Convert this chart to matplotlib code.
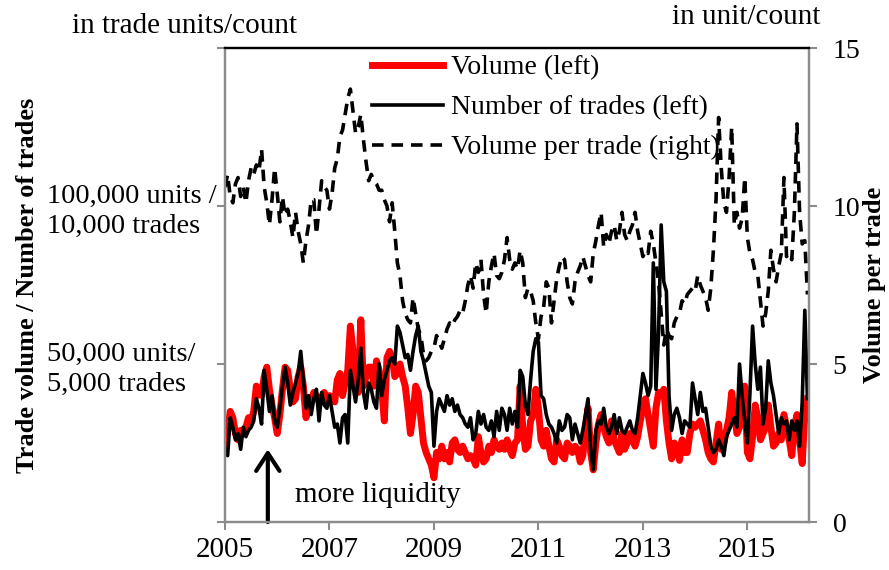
import numpy as np
import matplotlib.pyplot as plt

plt.rcParams['font.family'] = ['Liberation Serif', 'DejaVu Serif']
plt.rcParams['font.size'] = 21

# semi-monthly readings, 2005.00 onwards (step 0.05 year)
start_year = 2005.0
step = 0.05

# trade volume, in 10,000 units
volume = [
    2.4, 2.9, 3.5, 3.3, 2.8, 2.6, 2.9, 2.8, 3.0, 3.3, 3.2, 3.5, 4.3, 4.1, 4.0, 4.6, 4.9, 4.2, 3.7, 3.3,
    2.8, 3.4, 4.2, 4.9, 4.8, 4.2, 3.8, 3.9, 4.6, 4.9, 4.3, 3.3, 3.6, 3.8, 4.1, 4.0, 3.8, 3.9, 4.1, 3.8,
    4.0, 3.9, 3.8, 4.5, 4.7, 4.0, 4.4, 4.8, 6.2, 5.4, 4.4, 4.1, 6.4, 4.3, 4.6, 4.9, 4.9, 4.3, 5.1, 4.8,
    4.2, 3.2, 5.2, 5.4, 5.2, 4.6, 4.7, 5.0, 4.6, 4.3, 3.6, 2.8, 3.4, 4.3, 4.1, 3.3, 2.5, 2.2, 2.0, 1.8,
    1.4, 2.2, 2.0, 2.4, 2.0, 2.2, 1.9, 2.5, 2.6, 2.3, 2.2, 2.4, 2.2, 2.0, 2.1, 2.0, 1.8, 2.7, 2.2, 1.9,
    2.0, 2.4, 2.2, 2.6, 2.4, 2.3, 2.5, 2.3, 2.6, 2.3, 2.1, 2.5, 2.6, 4.3, 3.0, 2.3, 2.4, 3.2, 3.4, 4.2,
    3.6, 2.6, 2.4, 2.9, 2.4, 2.0, 1.9, 2.6, 2.4, 2.1, 2.0, 2.5, 2.4, 2.2, 2.4, 2.3, 1.9, 2.1, 2.9, 3.6,
    2.2, 1.65, 2.5, 3.1, 3.4, 3.0, 2.7, 2.5, 3.2, 2.6, 2.4, 2.2, 2.8, 2.3, 2.5, 2.8, 2.6, 2.4, 2.7, 3.2,
    3.6, 3.9, 3.4, 2.9, 2.4, 3.6, 4.1, 4.0, 4.2, 3.2, 2.5, 2.0, 2.5, 2.4, 1.95, 2.6, 2.2, 2.2, 2.8, 3.1,
    3.0, 3.1, 3.2, 2.9, 2.6, 2.2, 2.0, 1.9, 2.5, 3.1, 2.3, 2.5, 2.9, 3.3, 4.1, 3.5, 2.8, 3.0, 3.6, 4.3,
    2.2, 2.0, 2.7, 3.7, 3.3, 2.6, 2.8, 3.0, 3.7, 3.0, 2.4, 2.5, 2.8, 2.6, 3.4, 3.0, 2.6, 2.1, 3.0, 3.4,
    2.6, 1.85, 3.4, 3.9,
]

# number of trades, in 1,000 trades
trades = [
    2.3, 2.1, 3.3, 3.0, 2.6, 2.8, 2.3, 3.0, 2.7, 2.9, 3.0, 3.2, 3.9, 3.6, 3.1, 4.8, 4.2, 3.5, 4.0, 3.2,
    3.0, 3.6, 4.3, 4.9, 4.4, 3.7, 4.1, 4.4, 4.7, 5.4, 4.5, 3.6, 4.0, 3.4, 3.9, 4.2, 3.2, 4.1, 3.7, 3.6,
    4.0, 3.5, 3.0, 3.1, 2.5, 3.3, 3.4, 2.5, 4.8, 4.3, 3.8, 4.5, 5.5, 4.1, 3.6, 4.4, 4.2, 3.8, 3.6, 5.0,
    4.0, 4.5, 4.8, 5.1, 5.2, 5.0, 6.2, 6.0, 5.6, 5.2, 5.3, 4.8, 5.4, 5.9, 6.2, 5.4, 5.1, 4.7, 4.3, 4.1,
    2.4, 3.5, 3.9, 3.7, 3.5, 4.0, 3.7, 3.9, 3.5, 3.7, 3.4, 3.3, 3.1, 3.0, 3.3, 2.6, 2.8, 3.5, 3.1, 3.4,
    3.0, 2.9, 3.2, 2.7, 3.5, 2.9, 3.6, 3.4, 2.9, 3.6, 3.1, 3.5, 3.0, 4.8, 4.6, 3.7, 3.4, 4.5, 5.4, 5.8,
    5.7, 4.0, 3.9, 3.4, 3.1, 3.0, 2.8, 2.5, 3.2, 2.9, 3.0, 3.4, 3.3, 2.6, 3.1, 2.8, 2.5, 2.9, 3.4, 3.9,
    2.3, 1.65, 2.9, 3.2, 3.1, 3.6, 3.0, 2.8, 3.0, 3.4, 2.8, 3.3, 2.9, 2.8, 3.0, 3.2, 2.9, 2.8, 3.3, 4.0,
    4.7, 4.4, 4.0, 4.3, 8.2, 4.2, 6.0, 9.4, 7.6, 7.3, 4.0, 2.9, 3.4, 3.6, 3.3, 2.8, 3.2, 3.1, 3.0, 4.4,
    3.9, 3.4, 4.1, 3.5, 3.6, 3.0, 2.4, 2.2, 2.3, 2.6, 2.4, 2.1, 2.7, 2.9, 3.1, 3.3, 3.0, 5.0, 4.0, 3.2,
    2.5, 4.1, 6.2, 5.0, 4.2, 4.9, 3.1, 3.6, 5.1, 4.4, 4.0, 3.4, 2.8, 3.3, 3.1, 3.2, 2.6, 3.2, 2.9, 3.2,
    2.4, 3.8, 6.7, 3.9,
]

# volume per trade, units per trade
vol_per_trade = [
    10.6, 11.0, 10.3, 10.1, 10.7, 10.9, 10.3, 10.6, 10.1, 10.8, 11.2, 11.0, 11.3, 11.1, 11.8, 10.6, 10.1, 9.4, 10.2, 11.2,
    10.4, 9.5, 10.3, 9.7, 9.9, 9.5, 9.0, 9.8, 9.2, 8.8, 8.2, 8.9, 9.4, 10.2, 10.2, 9.1, 9.9, 10.8, 10.6, 10.5,
    9.9, 10.4, 11.2, 11.5, 12.2, 12.4, 12.9, 13.4, 13.7, 13.0, 12.3, 12.5, 12.9, 12.1, 11.4, 10.8, 11.0, 10.8, 10.7, 10.5,
    10.5, 10.2, 10.0, 9.5, 10.1, 9.2, 8.2, 7.8, 7.0, 6.6, 6.4, 6.3, 7.1, 6.6, 6.1, 5.9, 5.3, 5.1, 5.2, 5.4,
    5.5, 5.9, 5.7, 5.5, 5.8, 6.1, 6.3, 6.2, 6.4, 6.5, 6.7, 6.6, 7.0, 7.5, 7.8, 7.4, 8.2, 7.9, 8.3, 7.2,
    6.6, 7.6, 8.1, 8.5, 7.8, 7.7, 7.9, 8.3, 9.0, 8.3, 8.0, 8.2, 8.0, 8.6, 8.2, 7.1, 7.4, 7.3, 7.0, 6.3,
    5.8, 6.5, 6.8, 7.6, 7.4, 6.3, 7.0, 7.7, 8.1, 8.4, 8.3, 7.6, 7.1, 6.9, 7.6, 7.9, 8.1, 8.4, 8.1, 7.8,
    7.6, 8.5, 8.9, 9.4, 9.8, 8.7, 9.1, 8.8, 9.2, 9.4, 8.9, 9.2, 9.8, 9.1, 8.9, 9.2, 9.4, 9.8, 9.2, 8.8,
    8.4, 8.6, 8.5, 9.2, 8.8, 8.2, 7.6, 6.6, 5.6, 6.1, 5.9, 5.8, 6.3, 6.5, 6.6, 7.0, 6.9, 7.2, 7.3, 7.4,
    7.3, 7.8, 7.5, 7.3, 7.1, 6.7, 7.4, 8.6, 10.2, 12.8, 11.2, 10.1, 9.8, 10.9, 12.5, 9.4, 9.8, 9.3, 9.6, 10.9,
    9.0, 8.5, 8.3, 7.9, 7.8, 7.0, 6.2, 6.6, 7.3, 8.6, 8.0, 7.6, 8.1, 8.5, 10.9, 8.4, 8.5, 8.3, 9.8, 12.6,
    9.8, 8.8, 8.9, 7.2,
]

year_ticks = [2005, 2007, 2009, 2011, 2013, 2015]
left_ticks = [0, 5, 10, 15]
left_labels = ['', '50,000 units/\n5,000 trades', '100,000 units /\n10,000 trades', '']
right_ticks = [0, 5, 10, 15]

years = start_year + step * np.arange(len(volume))

grey = '#8c8c8c'

fig = plt.figure(figsize=(8.89, 5.70), dpi=100)
ax = fig.add_axes([225 / 889, 48 / 570, 584 / 889, 474 / 570])
ax2 = ax.twinx()

l1, = ax.plot(years, volume, color='#ff0000', lw=5, solid_joinstyle='round',
              label='Volume (left)')
l2, = ax.plot(years, trades, color='black', lw=2.6, label='Number of trades (left)')
l3, = ax2.plot(years, vol_per_trade, color='black', lw=2.6, ls=(0, (3.2, 2.2)),
               label='Volume per trade (right)')

ax.set_xlim(2005, 2016.18)
ax.set_ylim(0, 15)
ax2.set_ylim(0, 15)

ax.set_xticks(year_ticks)
ax.set_xticklabels([str(y) for y in year_ticks])
ax.set_yticks(left_ticks)
ax.set_yticklabels(left_labels, linespacing=1.25, fontsize=20.5)
for lbl in ax.get_yticklabels():
    lbl.set_horizontalalignment('left')
ax2.set_yticks(right_ticks)
ax2.set_yticklabels([str(t) for t in right_ticks], fontsize=20)

ax.tick_params(axis='y', length=6, width=1.5, color=grey, pad=122)
ax.tick_params(axis='x', length=6, width=1.5, color=grey, pad=5)
ax2.tick_params(axis='y', length=6, width=1.5, color=grey, pad=11)

for a in (ax, ax2):
    for side in ('left', 'right', 'bottom'):
        a.spines[side].set_color(grey)
        a.spines[side].set_linewidth(1.6)
    a.spines['top'].set_color('black')
    a.spines['top'].set_linewidth(1.6)

ax2.legend(handles=[l1, l2, l3], loc='upper left', bbox_to_anchor=(0.252, 0.985),
           frameon=False, handlelength=2.55, handletextpad=0.3, labelspacing=0.52,
           borderpad=0, borderaxespad=0, fontsize=20)

# arrow pointing at the liquid period
ax.annotate('', xy=(2005.82, 2.3), xytext=(2005.82, 0.0),
            arrowprops=dict(arrowstyle='->,head_length=0.32,head_width=0.21',
                            lw=3, color='black', mutation_scale=40,
                            shrinkA=0, shrinkB=0),
            annotation_clip=False)
ax.text(2006.34, 0.85, 'more liquidity', ha='left', va='center')

fig.text(72 / 889, 1 - 26 / 570, 'in trade units/count', ha='left', va='center')
fig.text(672 / 889, 1 - 17 / 570, 'in unit/count', ha='left', va='center')
fig.text(28 / 889, 0.5, 'Trade volume / Number of trades', rotation=90,
         weight='bold', ha='center', va='center', fontsize=19)
fig.text(874 / 889, 0.5, 'Volume per trade', rotation=90,
         weight='bold', ha='center', va='center', fontsize=19)

fig.savefig('out.png', dpi=100)
